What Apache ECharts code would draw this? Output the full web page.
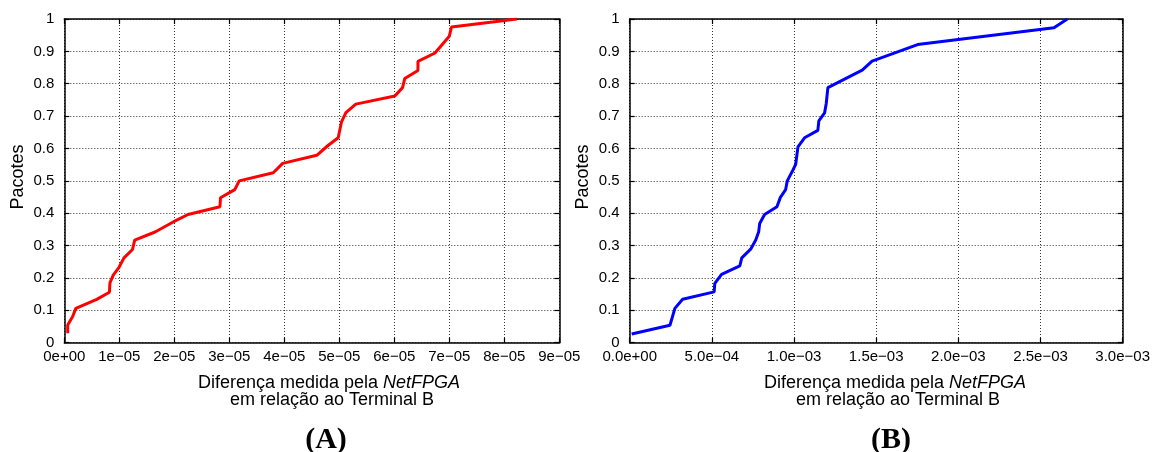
<!DOCTYPE html>
<html>
<head>
<meta charset="utf-8">
<script src="https://cdn.jsdelivr.net/npm/echarts@6/dist/echarts.min.js"></script>
<style>
html,body{margin:0;padding:0;background:#fff;}
#c{width:1153px;height:452px;}
</style>
</head>
<body>
<div id="c"></div>
<script>
// Panel A (NetFPGA vs Terminal B, small scale)
const xA = [0.062e-5,0.062e-5,0.15e-5,0.21e-5,0.59e-5,0.82e-5,0.83e-5,0.89e-5,0.995e-5,1.085e-5,1.24e-5,1.28e-5,1.65e-5,1.98e-5,2.25e-5,2.83e-5,2.84e-5,3.10e-5,3.18e-5,3.80e-5,3.97e-5,4.59e-5,4.80e-5,4.98e-5,5.04e-5,5.12e-5,5.30e-5,6.01e-5,6.15e-5,6.19e-5,6.43e-5,6.43e-5,6.74e-5,7.00e-5,7.04e-5,8.23e-5];
const yA = [0.029,0.055,0.080,0.106,0.134,0.156,0.185,0.209,0.233,0.262,0.288,0.317,0.342,0.373,0.396,0.420,0.448,0.473,0.500,0.525,0.554,0.579,0.610,0.633,0.682,0.711,0.737,0.762,0.788,0.816,0.841,0.869,0.895,0.947,0.975,1.000];
// Panel B
const xB = [0.12e-4,2.45e-4,2.75e-4,3.22e-4,5.14e-4,5.18e-4,5.59e-4,6.70e-4,6.82e-4,7.36e-4,7.67e-4,7.85e-4,7.91e-4,8.21e-4,8.96e-4,9.17e-4,9.49e-4,9.59e-4,9.93e-4,10.10e-4,10.24e-4,10.64e-4,11.45e-4,11.51e-4,11.86e-4,11.96e-4,12.06e-4,14.15e-4,14.75e-4,17.52e-4,25.82e-4,26.63e-4];
const yB = [0.027,0.054,0.106,0.134,0.157,0.183,0.211,0.237,0.262,0.289,0.317,0.343,0.368,0.396,0.420,0.449,0.473,0.500,0.533,0.551,0.605,0.633,0.656,0.685,0.710,0.739,0.788,0.842,0.870,0.921,0.973,1.000];

const xTicksA = ['0e+00','1e\u221205','2e\u221205','3e\u221205','4e\u221205','5e\u221205','6e\u221205','7e\u221205','8e\u221205','9e\u221205'];
const xTicksB = ['0.0e+00','5.0e\u221204','1.0e\u221203','1.5e\u221203','2.0e\u221203','2.5e\u221203','3.0e\u221203'];
const yTicks = ['0','0.1','0.2','0.3','0.4','0.5','0.6','0.7','0.8','0.9','1'];

const yName = 'Pacotes';
const xName1 = 'Diferença medida pela ';
const xNameItalic = 'NetFPGA';
const xName2 = 'em relação ao Terminal B';
const panelLabels = ['(A)','(B)'];

const FONT = '"Liberation Sans", Arial, Helvetica, sans-serif';
const chart = echarts.init(document.getElementById('c'), null, {renderer:'canvas'});

const gridLine = {show:true, lineStyle:{color:'#333', type:[1,2], width:1}};
function xAxisMain(gi, interval, max, ticks) {
  return {type:'value', gridIndex:gi, min:0, max:max, interval:interval,
    axisLine:{show:true, onZero:false, lineStyle:{color:'#000', width:1.5}},
    axisTick:{show:true, inside:true, length:5, lineStyle:{color:'#000', width:1.2}},
    splitLine:gridLine,
    axisLabel:{margin:7, color:'#000', fontFamily:FONT, fontSize:15,
      formatter:function(v){ const i=Math.round(v/interval); return ticks[i]!==undefined?ticks[i]:''; }}};
}
function xAxisTop(gi, interval, max) {
  return {type:'value', gridIndex:gi, position:'top', min:0, max:max, interval:interval,
    axisLine:{show:true, onZero:false, lineStyle:{color:'#000', width:1.5}},
    axisTick:{show:true, inside:true, length:5, lineStyle:{color:'#000', width:1.2}},
    splitLine:{show:false}, axisLabel:{show:false}};
}
function yAxisMain(gi) {
  return {type:'value', gridIndex:gi, min:0, max:1, interval:0.1,
    axisLine:{show:true, onZero:false, lineStyle:{color:'#000', width:1.5}},
    axisTick:{show:true, inside:true, length:5, lineStyle:{color:'#000', width:1.2}},
    splitLine:gridLine,
    axisLabel:{margin:10, color:'#000', fontFamily:FONT, fontSize:15,
      formatter:function(v){ return yTicks[Math.round(v*10)]; }}};
}
function yAxisRight(gi) {
  return {type:'value', gridIndex:gi, position:'right', min:0, max:1, interval:0.1,
    axisLine:{show:true, onZero:false, lineStyle:{color:'#000', width:1.5}},
    axisTick:{show:true, inside:true, length:5, lineStyle:{color:'#000', width:1.2}},
    splitLine:{show:false}, axisLabel:{show:false}};
}

function nameGraphics(cx, cyName, yNameX) {
  return [
    {type:'text', x:cx, y:383, style:{text:'{n|'+xName1+'}{i|'+xNameItalic+'}', align:'center', verticalAlign:'middle',
      rich:{n:{fontFamily:FONT, fontSize:18, fill:'#000'}, i:{fontFamily:FONT, fontSize:18, fontStyle:'italic', fill:'#000'}}}},
    {type:'text', x:cx+3, y:400, style:{text:xName2, align:'center', verticalAlign:'middle', font:'18px '+FONT, fill:'#000'}},
    {type:'text', x:yNameX, y:cyName, rotation:Math.PI/2, style:{text:yName, align:'center', verticalAlign:'middle', font:'18px '+FONT, fill:'#000'}}
  ];
}

const option = {
  animation:false,
  backgroundColor:'#fff',
  grid:[
    {left:64.3, top:19, right:593.7, bottom:109.3, show:false},
    {left:629.7, top:19, right:28.7, bottom:109.3, show:false}
  ],
  xAxis:[xAxisMain(0,1e-5,9e-5,xTicksA), xAxisTop(0,1e-5,9e-5), xAxisMain(1,5e-4,3e-3,xTicksB), xAxisTop(1,5e-4,3e-3)],
  yAxis:[yAxisMain(0), yAxisRight(0), yAxisMain(1), yAxisRight(1)],
  series:[
    {type:'line', xAxisIndex:0, yAxisIndex:0, data:xA.map((x,i)=>[x,yA[i]]), showSymbol:false, symbol:'none',
      lineStyle:{color:'#ff0000', width:3}, clip:true},
    {type:'line', xAxisIndex:2, yAxisIndex:2, data:xB.map((x,i)=>[x,yB[i]]), showSymbol:false, symbol:'none',
      lineStyle:{color:'#0000ff', width:3}, clip:true}
  ],
  graphic:[].concat(
    nameGraphics(329, 177, 18.5),
    nameGraphics(895, 177, 583),
    [
      {type:'text', x:326, y:440, style:{text:panelLabels[0], align:'center', verticalAlign:'middle', font:'bold 30px "Liberation Serif", "Times New Roman", serif', fill:'#000'}},
      {type:'text', x:891, y:440, style:{text:panelLabels[1], align:'center', verticalAlign:'middle', font:'bold 30px "Liberation Serif", "Times New Roman", serif', fill:'#000'}}
    ]
  )
};
chart.setOption(option);
</script>
</body>
</html>
